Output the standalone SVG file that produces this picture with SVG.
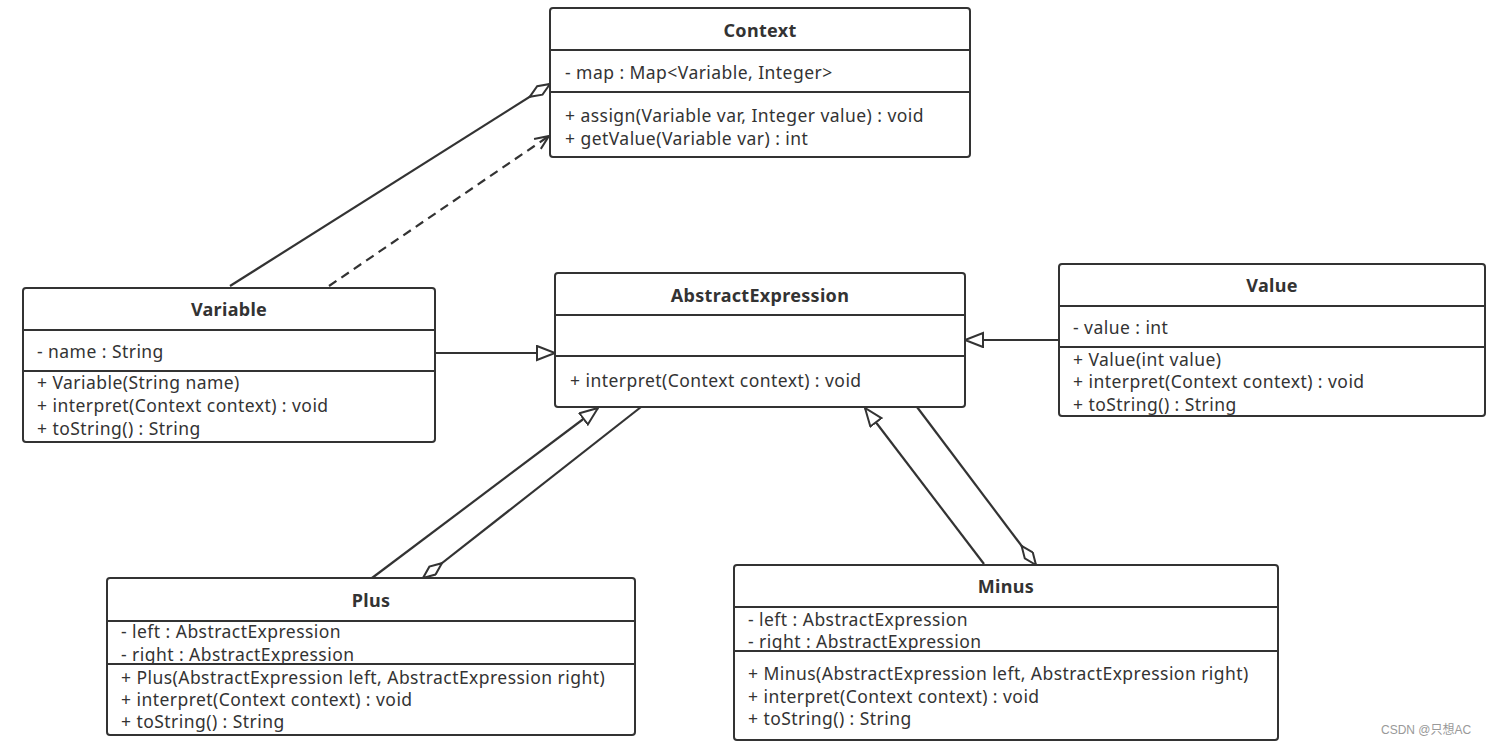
<svg xmlns="http://www.w3.org/2000/svg" width="1492" height="745" viewBox="0 0 1492 745">
<style>
.box{fill:#fff;stroke:#333;stroke-width:2}
.div{stroke:#333;stroke-width:2}
.t{font-family:"Noto Sans","Open Sans",sans-serif;font-size:17.5px;letter-spacing:0.45px;fill:#333}
.h{font-family:"Noto Sans","Open Sans",sans-serif;font-size:18px;letter-spacing:0.3px;font-weight:bold;fill:#333;text-anchor:middle}
.c{stroke:#333;stroke-width:2.2;fill:none}
.wm{font-family:"Liberation Sans","Noto Sans CJK SC",sans-serif;font-size:12px;fill:#999}
</style>
<defs>
<marker id="tri" markerUnits="userSpaceOnUse" markerWidth="22" markerHeight="18" refX="19" refY="8" orient="auto">
<path d="M1,1 L19,8 L1,15 Z" fill="#fff" stroke="#333" stroke-width="2"/>
</marker>
<marker id="dia" markerUnits="userSpaceOnUse" markerWidth="28" markerHeight="14" refX="25" refY="6" orient="auto">
<path d="M1,6 L13,1 L25,6 L13,11 Z" fill="#fff" stroke="#333" stroke-width="2"/>
</marker>
<marker id="open" markerUnits="userSpaceOnUse" markerWidth="18" markerHeight="16" refX="15" refY="7" orient="auto">
<path d="M1,1 L15,7 L1,13" fill="none" stroke="#333" stroke-width="2"/>
</marker>
</defs>
<rect width="1492" height="745" fill="#fff"/>
<g id="connectors">
<line class="c" x1="230" y1="286" x2="550" y2="84" marker-end="url(#dia)"/>
<line class="c" x1="329" y1="286" x2="549" y2="136" stroke-dasharray="9,6" marker-end="url(#open)"/>
<line class="c" x1="435" y1="353" x2="555" y2="353" marker-end="url(#tri)"/>
<line class="c" x1="1059" y1="340" x2="965" y2="340" marker-end="url(#tri)"/>
<line class="c" x1="372" y1="578" x2="598" y2="408" marker-end="url(#tri)"/>
<line class="c" x1="641" y1="407" x2="423" y2="578" marker-end="url(#dia)"/>
<line class="c" x1="984" y1="564" x2="865" y2="408" marker-end="url(#tri)"/>
<line class="c" x1="917" y1="407" x2="1036" y2="565" marker-end="url(#dia)"/>
</g>
<g id="Context">
<rect class="box" x="550" y="8" width="420" height="149" rx="3"/>
<line class="div" x1="550" y1="50" x2="970" y2="50"/>
<line class="div" x1="550" y1="92" x2="970" y2="92"/>
<text class="h" x="760" y="37">Context</text>
<text class="t" x="565" y="79">- map : Map&lt;Variable, Integer&gt;</text>
<text class="t" x="565" y="122">+ assign(Variable var, Integer value) : void</text>
<text class="t" x="565" y="145">+ getValue(Variable var) : int</text>
</g>
<g id="Variable">
<rect class="box" x="23" y="288" width="412" height="154" rx="3"/>
<line class="div" x1="23" y1="330" x2="435" y2="330"/>
<line class="div" x1="23" y1="371" x2="435" y2="371"/>
<text class="h" x="229" y="316">Variable</text>
<text class="t" x="37" y="358">- name : String</text>
<text class="t" x="37" y="389">+ Variable(String name)</text>
<text class="t" x="37" y="412">+ interpret(Context context) : void</text>
<text class="t" x="37" y="435">+ toString() : String</text>
</g>
<g id="AbstractExpression">
<rect class="box" x="555" y="273" width="410" height="134" rx="3"/>
<line class="div" x1="555" y1="315" x2="965" y2="315"/>
<line class="div" x1="555" y1="356" x2="965" y2="356"/>
<text class="h" x="760" y="302">AbstractExpression</text>
<text class="t" x="570" y="387">+ interpret(Context context) : void</text>
</g>
<g id="Value">
<rect class="box" x="1059" y="264" width="426" height="152" rx="3"/>
<line class="div" x1="1059" y1="306" x2="1485" y2="306"/>
<line class="div" x1="1059" y1="347" x2="1485" y2="347"/>
<text class="h" x="1272" y="292">Value</text>
<text class="t" x="1073" y="334">- value : int</text>
<text class="t" x="1073" y="366">+ Value(int value)</text>
<text class="t" x="1073" y="388">+ interpret(Context context) : void</text>
<text class="t" x="1073" y="411">+ toString() : String</text>
</g>
<g id="Plus">
<rect class="box" x="107" y="578" width="528" height="157" rx="3"/>
<line class="div" x1="107" y1="621" x2="635" y2="621"/>
<text class="h" x="371" y="607">Plus</text>
<text class="t" x="121" y="638">- left : AbstractExpression</text>
<text class="t" x="121" y="661">- right : AbstractExpression</text>
<line class="div" x1="107" y1="664" x2="635" y2="664"/>
<text class="t" x="121" y="684">+ Plus(AbstractExpression left, AbstractExpression right)</text>
<text class="t" x="121" y="706">+ interpret(Context context) : void</text>
<text class="t" x="121" y="728">+ toString() : String</text>
</g>
<g id="Minus">
<rect class="box" x="734" y="565" width="544" height="175" rx="3"/>
<line class="div" x1="734" y1="607" x2="1278" y2="607"/>
<text class="h" x="1006" y="593">Minus</text>
<text class="t" x="748" y="626">- left : AbstractExpression</text>
<text class="t" x="748" y="648">- right : AbstractExpression</text>
<line class="div" x1="734" y1="651" x2="1278" y2="651"/>
<text class="t" x="748" y="680">+ Minus(AbstractExpression left, AbstractExpression right)</text>
<text class="t" x="748" y="703">+ interpret(Context context) : void</text>
<text class="t" x="748" y="725">+ toString() : String</text>
</g>
<text class="wm" x="1381" y="734">CSDN @只想AC</text>
</svg>
